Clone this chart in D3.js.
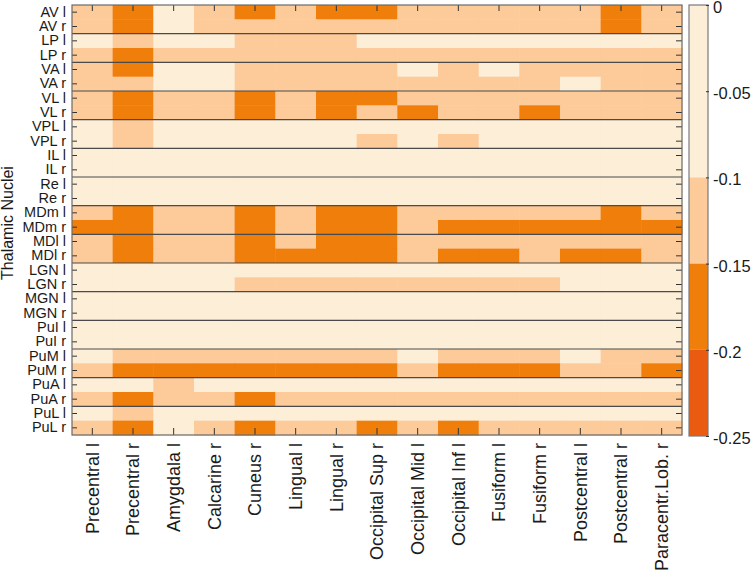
<!DOCTYPE html>
<html>
<head>
<meta charset="utf-8">
<script src="https://cdn.jsdelivr.net/npm/d3@7"></script>
<style>
  html, body { margin: 0; padding: 0; background: #fff; }
  svg { display: block; font-family: "Liberation Sans", Arial, Helvetica, sans-serif; }
</style>
</head>
<body>
<svg id="chart" width="751" height="576"></svg>
<script>
// ---------- data ----------
const nuclei = ["AV l","AV r","LP l","LP r","VA l","VA r","VL l","VL r","VPL l","VPL r",
  "IL l","IL r","Re l","Re r","MDm l","MDm r","MDl l","MDl r","LGN l","LGN r",
  "MGN l","MGN r","PuI l","PuI r","PuM l","PuM r","PuA l","PuA r","PuL l","PuL r"];
const regions = ["Precentral l","Precentral r","Amygdala l","Calcarine r","Cuneus r","Lingual l",
  "Lingual r","Occipital Sup r","Occipital Mid l","Occipital Inf l","Fusiform l","Fusiform r",
  "Postcentral l","Postcentral r","Paracentr.Lob. r"];
// correlation values per nucleus row (estimated from colour band)
const AVl  = [-0.12,-0.17,-0.05,-0.12,-0.17,-0.12,-0.17,-0.17,-0.12,-0.12,-0.12,-0.12,-0.12,-0.17,-0.12];
const AVr  = [-0.12,-0.17,-0.05,-0.12,-0.12,-0.12,-0.12,-0.12,-0.12,-0.12,-0.12,-0.12,-0.12,-0.17,-0.12];
const LPl  = [-0.05,-0.12,-0.05,-0.05,-0.12,-0.12,-0.12,-0.05,-0.05,-0.05,-0.05,-0.05,-0.05,-0.05,-0.05];
const LPr  = [-0.12,-0.17,-0.12,-0.12,-0.12,-0.12,-0.12,-0.12,-0.12,-0.12,-0.12,-0.12,-0.12,-0.12,-0.12];
const VAl  = [-0.12,-0.17,-0.05,-0.05,-0.12,-0.12,-0.12,-0.12,-0.05,-0.12,-0.05,-0.12,-0.12,-0.12,-0.12];
const VAr  = [-0.12,-0.12,-0.05,-0.05,-0.12,-0.12,-0.12,-0.12,-0.12,-0.12,-0.12,-0.12,-0.05,-0.12,-0.12];
const VLl  = [-0.12,-0.17,-0.12,-0.12,-0.17,-0.12,-0.17,-0.17,-0.12,-0.12,-0.12,-0.12,-0.12,-0.12,-0.12];
const VLr  = [-0.12,-0.17,-0.12,-0.12,-0.17,-0.12,-0.17,-0.12,-0.17,-0.12,-0.12,-0.17,-0.12,-0.12,-0.12];
const VPLl = [-0.05,-0.12,-0.05,-0.05,-0.05,-0.05,-0.05,-0.05,-0.05,-0.05,-0.05,-0.05,-0.05,-0.05,-0.05];
const VPLr = [-0.05,-0.12,-0.05,-0.05,-0.05,-0.05,-0.05,-0.12,-0.05,-0.12,-0.05,-0.05,-0.05,-0.05,-0.05];
const ILl  = [-0.05,-0.05,-0.05,-0.05,-0.05,-0.05,-0.05,-0.05,-0.05,-0.05,-0.05,-0.05,-0.05,-0.05,-0.05];
const ILr  = [-0.05,-0.05,-0.05,-0.05,-0.05,-0.05,-0.05,-0.05,-0.05,-0.05,-0.05,-0.05,-0.05,-0.05,-0.05];
const Rel  = [-0.05,-0.05,-0.05,-0.05,-0.05,-0.05,-0.05,-0.05,-0.05,-0.05,-0.05,-0.05,-0.05,-0.05,-0.05];
const Rer  = [-0.05,-0.05,-0.05,-0.05,-0.05,-0.05,-0.05,-0.05,-0.05,-0.05,-0.05,-0.05,-0.05,-0.05,-0.05];
const MDml = [-0.12,-0.17,-0.12,-0.12,-0.17,-0.12,-0.17,-0.17,-0.12,-0.12,-0.12,-0.12,-0.12,-0.17,-0.12];
const MDmr = [-0.17,-0.17,-0.12,-0.12,-0.17,-0.12,-0.17,-0.17,-0.12,-0.17,-0.17,-0.17,-0.17,-0.17,-0.17];
const MDll = [-0.12,-0.17,-0.12,-0.12,-0.17,-0.12,-0.17,-0.17,-0.12,-0.12,-0.12,-0.12,-0.12,-0.12,-0.12];
const MDlr = [-0.12,-0.17,-0.12,-0.12,-0.17,-0.17,-0.17,-0.17,-0.12,-0.17,-0.17,-0.12,-0.17,-0.17,-0.12];
const LGNl = [-0.05,-0.05,-0.05,-0.05,-0.05,-0.05,-0.05,-0.05,-0.05,-0.05,-0.05,-0.05,-0.05,-0.05,-0.05];
const LGNr = [-0.05,-0.05,-0.05,-0.05,-0.12,-0.12,-0.12,-0.12,-0.12,-0.12,-0.12,-0.12,-0.05,-0.05,-0.05];
const MGNl = [-0.05,-0.05,-0.05,-0.05,-0.05,-0.05,-0.05,-0.05,-0.05,-0.05,-0.05,-0.05,-0.05,-0.05,-0.05];
const MGNr = [-0.05,-0.05,-0.05,-0.05,-0.05,-0.05,-0.05,-0.05,-0.05,-0.05,-0.05,-0.05,-0.05,-0.05,-0.05];
const PuIl = [-0.05,-0.05,-0.05,-0.05,-0.05,-0.05,-0.05,-0.05,-0.05,-0.05,-0.05,-0.05,-0.05,-0.05,-0.05];
const PuIr = [-0.05,-0.05,-0.05,-0.05,-0.05,-0.05,-0.05,-0.05,-0.05,-0.05,-0.05,-0.05,-0.05,-0.05,-0.05];
const PuMl = [-0.05,-0.12,-0.12,-0.12,-0.12,-0.12,-0.12,-0.12,-0.05,-0.12,-0.12,-0.12,-0.05,-0.12,-0.12];
const PuMr = [-0.12,-0.17,-0.17,-0.17,-0.17,-0.17,-0.17,-0.17,-0.12,-0.17,-0.17,-0.17,-0.12,-0.12,-0.17];
const PuAl = [-0.05,-0.05,-0.12,-0.05,-0.05,-0.05,-0.05,-0.05,-0.05,-0.05,-0.05,-0.05,-0.05,-0.05,-0.05];
const PuAr = [-0.12,-0.17,-0.12,-0.12,-0.17,-0.12,-0.12,-0.12,-0.12,-0.12,-0.12,-0.12,-0.12,-0.12,-0.12];
const PuLl = [-0.05,-0.12,-0.05,-0.05,-0.05,-0.05,-0.05,-0.05,-0.05,-0.05,-0.05,-0.05,-0.05,-0.05,-0.05];
const PuLr = [-0.12,-0.17,-0.05,-0.12,-0.17,-0.12,-0.12,-0.17,-0.12,-0.17,-0.12,-0.12,-0.12,-0.12,-0.12];
const valueRows = [AVl,AVr,LPl,LPr,VAl,VAr,VLl,VLr,VPLl,VPLr,ILl,ILr,Rel,Rer,MDml,MDmr,MDll,MDlr,
  LGNl,LGNr,MGNl,MGNr,PuIl,PuIr,PuMl,PuMr,PuAl,PuAr,PuLl,PuLr];

const colorThresholds = [-0.2, -0.15, -0.1];
const bandColors = ["#e85b10", "#ef7f0a", "#fdca9a", "#fdeed7"];
const cbTicks = [0, -0.05, -0.1, -0.15, -0.2, -0.25];
const cbTickLabels = ["0", "-0.05", "-0.1", "-0.15", "-0.2", "-0.25"];
const yTitle = "Thalamic Nuclei";

// ---------- layout ----------
const plot = { left: 72, top: 5, right: 682, bottom: 435 };
const cb = { left: 689, right: 708, top: 5, bottom: 436 };

const svg = d3.select("#chart");
const x = d3.scaleBand().domain(regions).range([plot.left, plot.right]).padding(0);
const y = d3.scaleBand().domain(nuclei).range([plot.top, plot.bottom]).padding(0);
const color = d3.scaleThreshold().domain(colorThresholds).range(bandColors);

const cells = [];
valueRows.forEach((row, i) => row.forEach((v, j) => cells.push({ r: nuclei[i], c: regions[j], v })));

svg.append("g").selectAll("rect").data(cells).join("rect")
  .attr("x", d => x(d.c)).attr("y", d => y(d.r))
  .attr("width", x.bandwidth() + 0.5).attr("height", y.bandwidth() + 0.5)
  .attr("fill", d => color(d.v));

// separator lines every two rows
const seps = nuclei.filter((d, i) => i > 0 && i % 2 === 0);
svg.append("g").selectAll("line").data(seps).join("line")
  .attr("x1", plot.left).attr("x2", plot.right)
  .attr("y1", d => y(d)).attr("y2", d => y(d))
  .attr("stroke", "#4a4a4a").attr("stroke-width", 1.2);

// axes
function styleAxis(g) {
  g.select(".domain").remove();
  g.selectAll(".tick line").attr("stroke", "#333").attr("stroke-width", 1);
  g.selectAll("text").attr("fill", "#1a1a1a");
}
svg.append("g").attr("transform", `translate(${plot.left},0)`)
  .call(d3.axisLeft(y).tickSize(-5).tickPadding(6))
  .call(styleAxis)
  .call(g => g.selectAll("text").style("font-size", "14.5px"));

svg.append("g").attr("transform", `translate(${plot.right},0)`)
  .call(d3.axisRight(y).tickSize(-6).tickFormat(""))
  .call(styleAxis);

svg.append("g").attr("transform", `translate(0,${plot.top})`)
  .call(d3.axisTop(x).tickSize(-6).tickFormat(""))
  .call(styleAxis);

svg.append("g").attr("transform", `translate(0,${plot.bottom})`)
  .call(d3.axisBottom(x).tickSize(-7).tickPadding(8))
  .call(styleAxis)
  .call(g => g.selectAll("text")
    .style("font-size", "18px")
    .attr("transform", "rotate(-90)")
    .attr("x", -8).attr("y", 0).attr("dy", "0.35em")
    .style("text-anchor", "end"));

svg.append("rect")
  .attr("x", plot.left).attr("y", plot.top)
  .attr("width", plot.right - plot.left).attr("height", plot.bottom - plot.top)
  .attr("fill", "none").attr("stroke", "#6a6a6a").attr("stroke-width", 1.2);

// y title
svg.append("text")
  .attr("transform", `translate(13,${(plot.top + plot.bottom) / 2 + 3}) rotate(-90)`)
  .attr("text-anchor", "middle")
  .style("font-size", "16px").attr("fill", "#1a1a1a")
  .text(yTitle);

// colour bar
const cbScale = d3.scaleLinear().domain([0, -0.25]).range([cb.top, cb.bottom]);
const bandEdges = [0, ...colorThresholds.slice().reverse(), -0.25];
const bands = d3.range(bandEdges.length - 1).map(i => ({ a: bandEdges[i], b: bandEdges[i + 1] }));
svg.append("g").selectAll("rect").data(bands).join("rect")
  .attr("x", cb.left).attr("width", cb.right - cb.left)
  .attr("y", d => cbScale(d.a)).attr("height", d => cbScale(d.b) - cbScale(d.a))
  .attr("fill", d => color((d.a + d.b) / 2));
svg.append("rect")
  .attr("x", cb.left).attr("y", cb.top)
  .attr("width", cb.right - cb.left).attr("height", cb.bottom - cb.top)
  .attr("fill", "none").attr("stroke", "#7a7a7a").attr("stroke-width", 1.2);
svg.append("g").attr("transform", `translate(${cb.right + 1},0)`)
  .call(d3.axisRight(cbScale).tickValues(cbTicks).tickSize(-3).tickPadding(4)
    .tickFormat((d, i) => cbTickLabels[i]))
  .call(styleAxis)
  .call(g => g.selectAll("text").style("font-size", "16.5px").attr("dy", "0.45em"));
</script>
</body>
</html>
